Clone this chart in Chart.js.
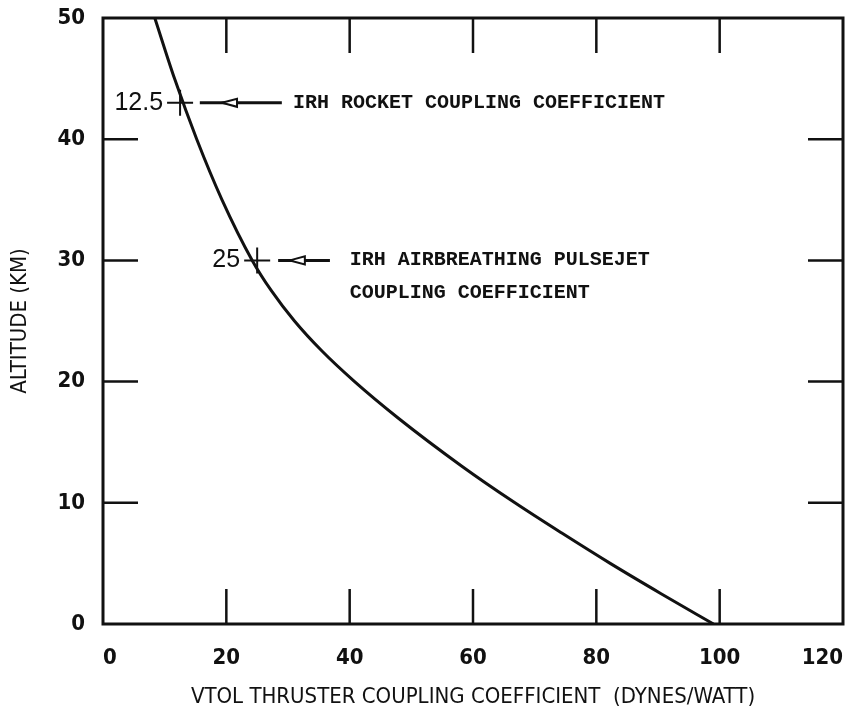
<!DOCTYPE html>
<html>
<head>
<meta charset="utf-8">
<script src="https://cdn.jsdelivr.net/npm/chart.js@4/dist/chart.umd.min.js"></script>
<style>
  html, body { margin: 0; padding: 0; background: #fff; }
  #wrap { width: 862px; height: 718px; }
</style>
</head>
<body>
<div id="wrap"><canvas id="chart"></canvas></div>
<script>
// Coupling coefficient curve (x = dynes/watt, y = km)
const coeffX = [8.4, 11.6, 15.2, 19.3, 24.2, 27.3, 31.05, 35.55, 40.8, 47.85, 58.25, 66.8, 74.4, 82.25, 90.5, 99];
const altitudeY = [50, 45, 40, 35, 30, 27.5, 25, 22.5, 20, 17, 13, 10, 7.5, 5, 2.5, 0];

// marked points on the curve
const markX = [12.5, 25];
const markY = [43, 30];
const markLabels = ['12.5', '25'];

const xTicks = [0, 20, 40, 60, 80, 100, 120];
const yTicks = [0, 10, 20, 30, 40, 50];

// arrows + notes, in data units
const notes = [
  { y: 43, from: 15.7, to: 29.0, head: 19.3, textX: 30.8, lines: ['IRH ROCKET COUPLING COEFFICIENT'] },
  { y: 30, from: 28.4, to: 36.8, head: 30.3, textX: 40.0, lines: ['IRH AIRBREATHING PULSEJET', 'COUPLING COEFFICIENT'] }
];

const ink = '#111';
const axisFont = "'Liberation Sans Narrow', 'DejaVu Sans Condensed', 'Liberation Sans', sans-serif";

// frame with long inward ticks on all four sides, plus the notes
const framePlugin = {
  id: 'frame',
  afterDatasetsDraw(chart) {
    const { ctx, chartArea: a, scales: { x, y } } = chart;
    const seg = (x1, y1, x2, y2) => { ctx.beginPath(); ctx.moveTo(x1, y1); ctx.lineTo(x2, y2); ctx.stroke(); };
    ctx.save();
    ctx.strokeStyle = ink;
    ctx.lineWidth = 3;
    ctx.strokeRect(a.left, a.top, a.right - a.left, a.bottom - a.top);

    ctx.lineWidth = 2.5;
    const len = 35;
    xTicks.slice(1, -1).forEach(v => {
      const px = x.getPixelForValue(v);
      seg(px, a.bottom, px, a.bottom - len);
      seg(px, a.top, px, a.top + len);
    });
    yTicks.slice(1, -1).forEach(v => {
      const py = y.getPixelForValue(v);
      seg(a.left, py, a.left + len, py);
      seg(a.right, py, a.right - len, py);
    });

    // arrows
    notes.forEach(n => {
      const py = y.getPixelForValue(n.y);
      ctx.lineWidth = 3;
      seg(x.getPixelForValue(n.from), py, x.getPixelForValue(n.to), py);
      const hx = x.getPixelForValue(n.head);
      ctx.beginPath();
      ctx.moveTo(hx, py);
      ctx.lineTo(hx + 15, py - 4);
      ctx.lineTo(hx + 15, py + 4);
      ctx.closePath();
      ctx.fillStyle = '#fff';
      ctx.fill();
      ctx.lineWidth = 2;
      ctx.stroke();

      ctx.fillStyle = ink;
      ctx.font = "bold 20px 'Liberation Mono', 'DejaVu Sans Mono', monospace";
      ctx.textAlign = 'left';
      ctx.textBaseline = 'middle';
      n.lines.forEach((t, i) => ctx.fillText(t, x.getPixelForValue(n.textX), py + i * 33));
    });

    // values beside the crosses
    ctx.font = "25px 'Liberation Sans', sans-serif";
    ctx.textAlign = 'right';
    markLabels.forEach((t, i) => {
      ctx.fillText(t, x.getPixelForValue(markX[i]) - 17, y.getPixelForValue(markY[i]));
    });
    ctx.restore();
  }
};

new Chart(document.getElementById('chart'), {
  type: 'scatter',
  data: {
    datasets: [
      {
        data: coeffX.map((v, i) => ({ x: v, y: altitudeY[i] })),
        showLine: true,
        borderColor: ink,
        borderWidth: 3,
        pointRadius: 0,
        cubicInterpolationMode: 'monotone'
      },
      {
        data: markX.map((v, i) => ({ x: v, y: markY[i] })),
        showLine: false,
        pointStyle: 'cross',
        pointRadius: 13,
        borderColor: ink,
        borderWidth: 2
      }
    ]
  },
  options: {
    responsive: true,
    maintainAspectRatio: false,
    animation: false,
    layout: { padding: { top: 18, right: 19, left: 0, bottom: 0 } },
    plugins: {
      legend: { display: false },
      tooltip: { enabled: false }
    },
    scales: {
      x: {
        type: 'linear',
        min: 0,
        max: 120,
        afterBuildTicks: s => { s.ticks = xTicks.map(v => ({ value: v })); },
        afterFit: s => { s.height = 94; s.paddingLeft = 0; s.paddingRight = 0; },
        grid: { display: false },
        border: { display: false },
        ticks: { padding: 13, align: 'inner', color: ink, font: { family: axisFont, size: 22, weight: 'bold' } },
        title: {
          display: true,
          text: 'VTOL THRUSTER COUPLING COEFFICIENT  (DYNES/WATT)',
          color: ink,
          font: { family: axisFont, size: 22 },
          padding: { top: 0, bottom: 8 }
        }
      },
      y: {
        type: 'linear',
        min: 0,
        max: 50,
        afterBuildTicks: s => { s.ticks = yTicks.map(v => ({ value: v })); },
        afterFit: s => { s.width = 103; s.paddingTop = 0; s.paddingBottom = 0; },
        grid: { display: false },
        border: { display: false },
        ticks: { padding: 10, color: ink, font: { family: axisFont, size: 22, weight: 'bold' } },
        title: {
          display: true,
          text: 'ALTITUDE (KM)',
          color: ink,
          font: { family: axisFont, size: 22 },
          padding: { top: 7, bottom: 0 }
        }
      }
    }
  },
  plugins: [framePlugin]
});
</script>
</body>
</html>
